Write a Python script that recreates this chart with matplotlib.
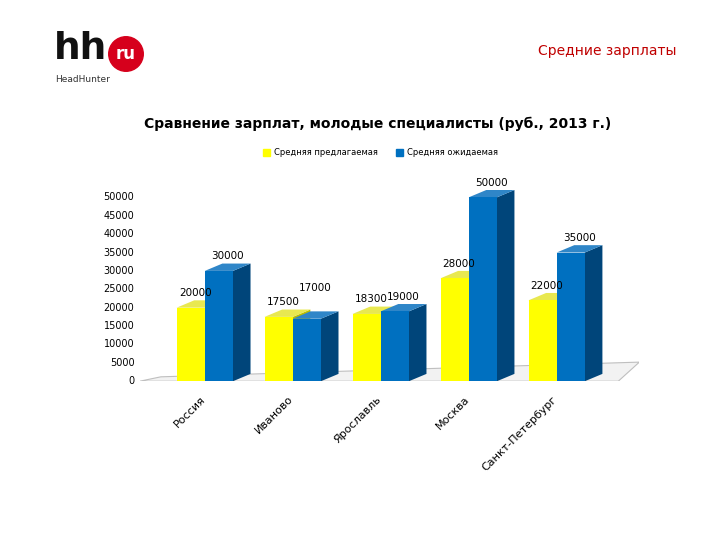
import matplotlib
matplotlib.use("Agg")
import matplotlib.pyplot as plt
from matplotlib.patches import Polygon, Ellipse

cities = ["Россия", "Иваново", "Ярославль", "Москва", "Санкт-Петербург"]
offered = [20000, 17500, 18300, 28000, 22000]
expected = [30000, 17000, 19000, 50000, 35000]
yticks = list(range(0, 50001, 5000))

fig = plt.figure(figsize=(7.2, 5.4), dpi=100)
ax = fig.add_axes([0.194, 0.294, 0.694, 0.395])
ax.set_xlim(-0.74, 4.94)
ax.set_ylim(0, 58000)
ax.axis("off")

w = 0.32
dx, dy = 0.2, 2000

floor = Polygon([(-0.74, 0), (4.7, 0), (4.94, 5200), (-0.5, 1200)], closed=True,
                facecolor="#f2f2f2", edgecolor="#bfbfbf", lw=0.8, zorder=0)
ax.add_patch(floor)

def bar3d(x, h, front, side, top):
    ax.bar(x, h, w, align="edge", color=front, zorder=3)
    ax.add_patch(Polygon([(x + w, 0), (x + w + dx, dy), (x + w + dx, h + dy), (x + w, h)],
                         facecolor=side, zorder=2))
    ax.add_patch(Polygon([(x, h), (x + dx, h + dy), (x + w + dx, h + dy), (x + w, h)],
                         facecolor=top, zorder=2))

for i, (o, e) in enumerate(zip(offered, expected)):
    bar3d(i - w, o, "#FFFF00", "#BDBD00", "#E8E850")
    bar3d(i, e, "#0070C0", "#00457A", "#2F86C8")
    eoff = 7000 if e < o else 2600
    ax.text(i - w / 2 + 0.05, o + 2600, f"{o}", ha="center", va="bottom", fontsize=7.5)
    ax.text(i + w / 2 + 0.1, e + eoff, f"{e}", ha="center", va="bottom", fontsize=7.5)

for t in yticks:
    ax.text(-0.8, t, str(t), ha="right", va="center", fontsize=7)

for i, c in enumerate(cities):
    ax.text(i - 0.05, -3500, c, ha="right", va="top", rotation=45,
            rotation_mode="anchor", fontsize=8)

fig.text(0.525, 0.77, "Сравнение зарплат, молодые специалисты (руб., 2013 г.)",
         ha="center", va="center", fontsize=10, fontweight="bold")
fig.patches.append(plt.Rectangle((0.365, 0.712), 0.01, 0.012, color="#FFFF00",
                                 transform=fig.transFigure, figure=fig))
fig.text(0.38, 0.718, "Средняя предлагаемая", fontsize=6, va="center")
fig.patches.append(plt.Rectangle((0.55, 0.712), 0.01, 0.012, color="#0070C0",
                                 transform=fig.transFigure, figure=fig))
fig.text(0.565, 0.718, "Средняя ожидаемая", fontsize=6, va="center")

fig.text(0.94, 0.905, "Средние зарплаты", ha="right", va="center", fontsize=10, color="#C00000")
fig.text(0.075, 0.91, "hh", fontsize=27, fontweight="bold", va="center", ha="left", color="#111111")
fig.patches.append(Ellipse((0.175, 0.9), 0.048, 0.064, transform=fig.transFigure,
                           figure=fig, color="#D6001C"))
fig.text(0.175, 0.9, "ru", fontsize=12, color="white", fontweight="bold", ha="center", va="center")
fig.text(0.077, 0.853, "HeadHunter", fontsize=6.5, color="#333333", va="center")

fig.savefig("out.png", dpi=100)
